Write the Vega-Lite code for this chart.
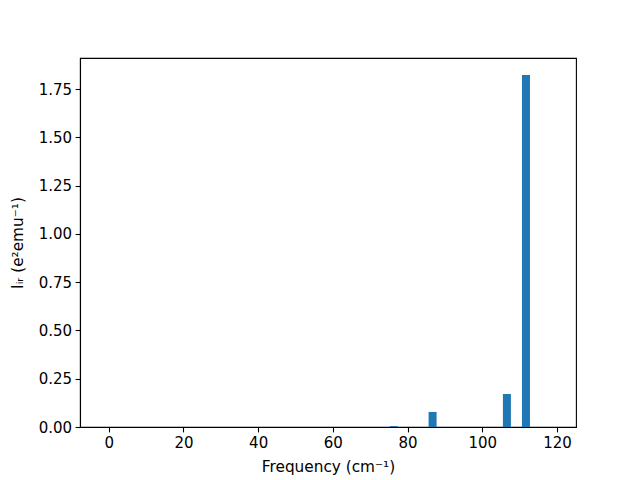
{
  "$schema": "https://vega.github.io/schema/vega-lite/v6.json",
  "width": 496,
  "height": 369,
  "autosize": {"type": "none"},
  "padding": {"left": 80, "top": 58, "right": 64, "bottom": 53},
  "background": "white",
  "config": {
    "view": {"stroke": "black", "strokeWidth": 1.1},
    "font": "DejaVu Sans",
    "axis": {
      "labelFont": "DejaVu Sans",
      "titleFont": "DejaVu Sans",
      "labelFontSize": 15,
      "titleFontSize": 15.3,
      "titleFontWeight": "normal",
      "labelColor": "black",
      "titleColor": "black",
      "tickColor": "black",
      "domainColor": "black",
      "tickSize": 4.9,
      "tickWidth": 1.1,
      "domainWidth": 1.1,
      "labelPadding": 3.5,
      "grid": false
    }
  },
  "data": {
    "values": [
      {"freq": 76.3, "intensity": 0.005},
      {"freq": 86.7, "intensity": 0.078},
      {"freq": 106.6, "intensity": 0.171},
      {"freq": 111.7, "intensity": 1.823}
    ]
  },
  "mark": {"type": "bar", "color": "#1f77b4", "size": 8, "clip": true},
  "encoding": {
    "x": {
      "field": "freq",
      "type": "quantitative",
      "scale": {"domain": [-7.7, 125.1], "nice": false, "zero": false, "padding": 0},
      "axis": {"values": [0, 20, 40, 60, 80, 100, 120], "title": "Frequency (cm⁻¹)", "titlePadding": 9}
    },
    "y": {
      "field": "intensity",
      "type": "quantitative",
      "scale": {"domain": [0, 1.911], "nice": false, "padding": 0},
      "axis": {"values": [0, 0.25, 0.5, 0.75, 1, 1.25, 1.5, 1.75], "format": ".2f", "title": "Iᵢᵣ (e²emu⁻¹)", "titlePadding": 13}
    }
  }
}
